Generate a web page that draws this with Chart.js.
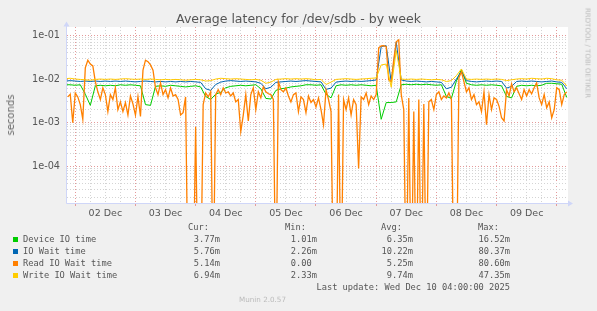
<!DOCTYPE html>
<html lang="en">
<head>
<meta charset="UTF-8">
<title>Average latency for /dev/sdb - by week</title>
<script src="https://cdn.jsdelivr.net/npm/chart.js"></script>
<style>
  html, body { margin: 0; padding: 0; background: #f0f0f0; }
  #wrap { position: relative; width: 597px; height: 311px; overflow: hidden; }
  #chart { position: absolute; left: 0; top: 0; }
  .t { position: absolute; white-space: pre; line-height: 1; color: #555; font-family: "DejaVu Sans", sans-serif; }
  .mono { font-family: "DejaVu Sans Mono", monospace; font-size: 8.7px; color: #555; }
  .sq { position: absolute; width: 5px; height: 5px; }
</style>
</head>
<body>
<div id="wrap">
  <canvas id="chart" width="597" height="311"></canvas>
  <div class="t" style="left:0;width:597px;text-align:center;top:13px;font-size:12.5px;color:#555">Average latency for /dev/sdb - by week</div>
  <div class="t" style="left:11px;top:115px;font-size:10px;color:#666;transform:translate(-50%,-50%) rotate(-90deg)">seconds</div>
  <div class="t" style="left:587px;top:53px;font-size:7px;color:#bbb;transform:translate(-50%,-50%) rotate(90deg)">RRDTOOL / TOBI OETIKER</div>
  <div class="t" style="left:239px;top:296px;font-size:7.2px;color:#bbb">Munin 2.0.57</div>
  <div id="legend"></div>
</div>
<script>
// hours since 02 Dec 00:00
const xMin = -3.3, xMax = 196.5;
const dayLabels = ['02 Dec', '03 Dec', '04 Dec', '05 Dec', '06 Dec', '07 Dec', '08 Dec', '09 Dec'];
const decadeValues = [1e-4, 1e-3, 1e-2, 1e-1];
const decadeLabels = ['1e-04', '1e-03', '1e-02', '1e-01'];

const seriesNames = ['Device IO time', 'IO Wait time', 'Read IO Wait time', 'Write IO Wait time'];
const seriesColors = ['#00cc00', '#0066b3', '#ff8000', '#ffcc00'];
const curText = ['3.77m', '5.76m', '5.14m', '6.94m'];
const minText = ['1.01m', '2.26m', '0.00 ', '2.33m'];
const avgText = ['6.35m', '10.22m', '5.25m', '9.74m'];
const maxText = ['16.52m', '80.37m', '80.60m', '47.35m'];

// 2-hourly samples starting at -4h
const coarseStart = -4, coarseStep = 2;
const deviceIO = [
  0.0074, 0.0074, 0.0072, 0.0074, 0.0045, 0.0025, 0.0070, 0.0072, 0.0070, 0.0072,
  0.0070, 0.0074, 0.0072, 0.0074, 0.0072, 0.0070, 0.0026, 0.0025, 0.0068, 0.0070,
  0.0068, 0.0072, 0.0070, 0.0068, 0.0066, 0.0068, 0.0070, 0.0066, 0.0040, 0.0034,
  0.0045, 0.0050, 0.0063, 0.0068, 0.0070, 0.0072, 0.0070, 0.0072, 0.0074, 0.0060,
  0.0036, 0.0035, 0.0055, 0.0060, 0.0062, 0.0066, 0.0068, 0.0070, 0.0074, 0.0074,
  0.0072, 0.0074, 0.0045, 0.0037, 0.0070, 0.0074, 0.0072, 0.0074, 0.0072, 0.0074,
  0.0072, 0.0070, 0.0072, 0.0012, 0.0029, 0.0029, 0.0030, 0.0074, 0.0076, 0.0074,
  0.0076, 0.0074, 0.0076, 0.0074, 0.0072, 0.0074, 0.0040, 0.0036, 0.0090, 0.0165,
  0.0080, 0.0074, 0.0072, 0.0074, 0.0072, 0.0074, 0.0072, 0.0070, 0.0040, 0.0037,
  0.0068, 0.0072, 0.0070, 0.0072, 0.0070, 0.0072, 0.0080, 0.0080, 0.0078, 0.0076,
  0.0038
];
const ioWait = [
  0.0090, 0.0092, 0.0090, 0.0088, 0.0090, 0.0088, 0.0090, 0.0088, 0.0090, 0.0088,
  0.0090, 0.0088, 0.0090, 0.0088, 0.0086, 0.0088, 0.0090, 0.0088, 0.0086, 0.0088,
  0.0086, 0.0088, 0.0086, 0.0088, 0.0086, 0.0088, 0.0086, 0.0084, 0.0060, 0.0055,
  0.0075, 0.0085, 0.0090, 0.0092, 0.0090, 0.0088, 0.0090, 0.0088, 0.0086, 0.0080,
  0.0060, 0.0065, 0.0084, 0.0086, 0.0088, 0.0090, 0.0088, 0.0090, 0.0092, 0.0090,
  0.0088, 0.0086, 0.0058, 0.0062, 0.0085, 0.0088, 0.0090, 0.0088, 0.0090, 0.0088,
  0.0090, 0.0092, 0.0095, 0.055, 0.058, 0.0085, 0.070, 0.0095, 0.0090, 0.0088,
  0.0090, 0.0088, 0.0086, 0.0088, 0.0086, 0.0084, 0.0060, 0.0065, 0.0100, 0.0150,
  0.0092, 0.0088, 0.0086, 0.0088, 0.0090, 0.0088, 0.0090, 0.0088, 0.0062, 0.0068,
  0.0088, 0.0090, 0.0088, 0.0090, 0.0088, 0.0086, 0.0088, 0.0090, 0.0086, 0.0084,
  0.0060
];
const writeWait = [
  0.0102, 0.0104, 0.0100, 0.0098, 0.0096, 0.0094, 0.0098, 0.0100, 0.0098, 0.0100,
  0.0098, 0.0100, 0.0102, 0.0100, 0.0098, 0.0100, 0.0098, 0.0100, 0.0098, 0.0096,
  0.0098, 0.0096, 0.0098, 0.0096, 0.0094, 0.0096, 0.0098, 0.0096, 0.0090, 0.0092,
  0.0100, 0.0104, 0.0102, 0.0100, 0.0102, 0.0100, 0.0098, 0.0096, 0.0098, 0.0094,
  0.0080, 0.0085, 0.0098, 0.0100, 0.0102, 0.0100, 0.0102, 0.0100, 0.0102, 0.0100,
  0.0096, 0.0098, 0.0075, 0.0085, 0.0098, 0.0100, 0.0102, 0.0100, 0.0098, 0.0100,
  0.0102, 0.0104, 0.0106, 0.021, 0.022, 0.0065, 0.045, 0.0100, 0.0098, 0.0100,
  0.0098, 0.0100, 0.0098, 0.0096, 0.0098, 0.0096, 0.0088, 0.0092, 0.0120, 0.0170,
  0.0100, 0.0098, 0.0100, 0.0098, 0.0100, 0.0098, 0.0100, 0.0098, 0.0092, 0.0096,
  0.0100, 0.0102, 0.0100, 0.0104, 0.0102, 0.0100, 0.0104, 0.0102, 0.0096, 0.0094,
  0.0070
];

// hourly samples starting at -3h
const fineStart = -3, fineStep = 1;
const readWait = [
  0.0039, 0.0045, 0.0010, 0.0048, 0.0039, 0.0026, 0.0012, 0.018, 0.027, 0.022,
  0.020, 0.0087, 0.0051, 0.0034, 0.0063, 0.0044, 0.0018, 0.0044, 0.0034, 0.0063,
  0.0020, 0.0030, 0.0018, 0.0029, 0.0015, 0.0041, 0.0027, 0.0015, 0.0040, 0.0014,
  0.016, 0.027, 0.025, 0.021, 0.016, 0.0063, 0.0044, 0.0082, 0.0044, 0.0057,
  0.0037, 0.0063, 0.0041, 0.0044, 0.0034, 0.0015, 0.0017, 0.0039, 0, 0,
  0, 0.0008, 0, 0, 0.0026, 0.0048, 0.0039, 0.0051, 0, 0.0044,
  0.0057, 0.0044, 0.0063, 0.0048, 0.0051, 0.0041, 0.0048, 0.0030, 0.0034, 0.00063,
  0.0015, 0.0044, 0.0011, 0.0044, 0.0063, 0.0020, 0.0051, 0.0037, 0.0067, 0.0051,
  0.0046, 0.0044, 0.0034, 0, 0.0087, 0.0057, 0.0051, 0.0063, 0.0041, 0.0030,
  0.0044, 0.0048, 0.0018, 0.0039, 0.0034, 0.0017, 0.0041, 0.0029, 0.0034, 0.0023,
  0.0037, 0.0020, 0.0009, 0.0057, 0.0034, 0.0018, 0, 0, 0.0044, 0,
  0.0034, 0.0020, 0.0037, 0.0015, 0.0034, 0.0026, 0.00009, 0.0039, 0.0034, 0.0048,
  0.0026, 0.0041, 0.0034, 0.0044, 0.052, 0.057, 0.058, 0.055, 0.0096, 0.0087,
  0.027, 0.071, 0.079, 0.0044, 0.0020, 0, 0.0037, 0, 0.0018, 0,
  0.0034, 0, 0.0027, 0, 0.0030, 0.0034, 0.0020, 0.0044, 0.0051, 0.0034,
  0.0041, 0.0037, 0.0048, 0.0034, 0, 0, 0.0107, 0.0147, 0.0087, 0.0051,
  0.0063, 0.0034, 0.0044, 0.0026, 0.0030, 0.0018, 0.0051, 0.0009, 0.0044, 0.0020,
  0.0037, 0.0034, 0.0024, 0.0013, 0.0011, 0.0057, 0.0041, 0.0078, 0.0051, 0.0063,
  0.0046, 0.0034, 0.0057, 0.0041, 0.0057, 0.0046, 0.0063, 0.0082, 0.0037, 0.0026,
  0.0044, 0.0022, 0.0030, 0.0013, 0.0020, 0.0063, 0.0057, 0.0026, 0.0044, 0.0051
];

const FLOOR = 1e-7; // zero is drawn below the log axis
function points(values, start, step) {
  return values.map((v, i) => ({ x: start + i * step, y: v > 0 ? v : FLOOR }));
}

const majorGrid = '#e49a9a';
const minorGrid = '#d4d4d4';

const muninPlugin = {
  id: 'munin',
  beforeDraw(chart) {
    const { ctx, chartArea: a } = chart;
    ctx.save();
    ctx.fillStyle = '#f0f0f0';
    ctx.fillRect(0, 0, chart.width, chart.height);
    ctx.fillStyle = '#ffffff';
    ctx.fillRect(a.left, a.top, a.right - a.left, a.bottom - a.top);
    ctx.restore();
  },
  afterDraw(chart) {
    // munin style axis lines with arrows
    const { ctx, chartArea: a } = chart;
    ctx.save();
    ctx.strokeStyle = '#cfd6f8';
    ctx.fillStyle = '#cfd6f8';
    ctx.lineWidth = 1;
    ctx.beginPath();
    ctx.moveTo(a.left - 0.5, a.bottom + 0.5);
    ctx.lineTo(a.right + 2, a.bottom + 0.5);
    ctx.moveTo(a.left - 0.5, a.bottom + 0.5);
    ctx.lineTo(a.left - 0.5, a.top - 2);
    ctx.stroke();
    ctx.beginPath();
    ctx.moveTo(a.right + 5, a.bottom + 0.5);
    ctx.lineTo(a.right, a.bottom - 2.5);
    ctx.lineTo(a.right, a.bottom + 3.5);
    ctx.closePath();
    ctx.moveTo(a.left - 0.5, a.top - 5.5);
    ctx.lineTo(a.left - 3.5, a.top - 0.5);
    ctx.lineTo(a.left + 2.5, a.top - 0.5);
    ctx.closePath();
    ctx.fill();
    ctx.restore();
  }
};

const tickFont = { family: 'DejaVu Sans', size: 9.5 };

new Chart(document.getElementById('chart'), {
  type: 'line',
  data: {
    datasets: [
      { label: seriesNames[0], data: points(deviceIO, coarseStart, coarseStep), borderColor: seriesColors[0], order: 4 },
      { label: seriesNames[1], data: points(ioWait, coarseStart, coarseStep), borderColor: seriesColors[1], order: 3 },
      { label: seriesNames[2], data: points(readWait, fineStart, fineStep), borderColor: seriesColors[2], borderWidth: 1.3, order: 2 },
      { label: seriesNames[3], data: points(writeWait, coarseStart, coarseStep), borderColor: seriesColors[3], order: 1 }
    ]
  },
  options: {
    responsive: false,
    animation: false,
    layout: { padding: { left: 0, top: 27, right: 29, bottom: 88 } },
    plugins: { legend: { display: false }, tooltip: { enabled: false } },
    elements: {
      point: { radius: 0 },
      line: { borderWidth: 1, tension: 0, fill: false }
    },
    scales: {
      x: {
        type: 'linear',
        min: xMin,
        max: xMax,
        afterFit(s) { s.height = 20; },
        afterBuildTicks(s) {
          const t = [];
          for (let h = 0; h <= 192; h += 6) t.push({ value: h });
          s.ticks = t;
        },
        grid: {
          color: c => (c.tick && c.tick.value % 24 === 0) ? majorGrid : minorGrid,
          tickColor: c => (c.tick && c.tick.value % 24 === 0) ? majorGrid : 'rgba(0,0,0,0)',
          tickLength: 3,
          lineWidth: 1
        },
        border: { display: false, dash: [1, 2] },
        ticks: {
          autoSkip: false,
          maxRotation: 0,
          padding: 2,
          color: '#555',
          font: tickFont,
          callback: v => (v % 24 === 12) ? dayLabels[(v - 12) / 24] : ''
        }
      },
      y: {
        type: 'logarithmic',
        min: 1.46e-5,
        max: 0.155,
        afterFit(s) { s.width = 67; },
        afterBuildTicks(s) {
          const t = [];
          for (let e = -5; e <= -1; e++) {
            for (let k = 1; k <= 9; k++) {
              const v = k * Math.pow(10, e);
              if (v >= s.min && v <= s.max) t.push({ value: v });
            }
          }
          s.ticks = t;
        },
        grid: {
          color: c => {
            if (!c.tick) return minorGrid;
            const i = decadeValues.findIndex(d => Math.abs(c.tick.value / d - 1) < 1e-6);
            return i >= 0 ? majorGrid : minorGrid;
          },
          drawTicks: false,
          lineWidth: 1
        },
        border: { display: false, dash: [1, 2] },
        ticks: {
          autoSkip: false,
          padding: 7,
          color: '#555',
          font: { family: 'DejaVu Sans', size: 9.7 },
          callback: v => {
            const i = decadeValues.findIndex(d => Math.abs(v / d - 1) < 1e-6);
            return i >= 0 ? decadeLabels[i] : '';
          }
        }
      }
    }
  },
  plugins: [muninPlugin]
});

// legend table
const legend = document.getElementById('legend');
function addText(txt, style) {
  const d = document.createElement('div');
  d.className = 't mono';
  d.textContent = txt;
  d.setAttribute('style', style);
  legend.appendChild(d);
}
const rowCenter = [239.5, 251.7, 263.7, 275.5];
const fs = 8.7;
addText('Cur:', `left:188px;top:${227.5 - fs * 0.5}px`);
addText('Min:', `left:285px;top:${227.5 - fs * 0.5}px`);
addText('Avg:', `left:381px;top:${227.5 - fs * 0.5}px`);
addText('Max:', `left:478px;top:${227.5 - fs * 0.5}px`);
seriesNames.forEach((name, i) => {
  const top = rowCenter[i] - fs * 0.5;
  const sq = document.createElement('div');
  sq.className = 'sq';
  sq.style.left = '12.5px';
  sq.style.top = (rowCenter[i] - 2.5) + 'px';
  sq.style.background = seriesColors[i];
  legend.appendChild(sq);
  addText(name, `left:23px;top:${top}px`);
  addText(curText[i], `right:${597 - 220}px;top:${top}px;text-align:right`);
  addText(minText[i], `right:${597 - 317}px;top:${top}px;text-align:right`);
  addText(avgText[i], `right:${597 - 413}px;top:${top}px;text-align:right`);
  addText(maxText[i], `right:${597 - 510}px;top:${top}px;text-align:right`);
});
addText('Last update: Wed Dec 10 04:00:00 2025', `right:${597 - 510}px;top:${287.7 - fs * 0.5}px;text-align:right`);
</script>
</body>
</html>
